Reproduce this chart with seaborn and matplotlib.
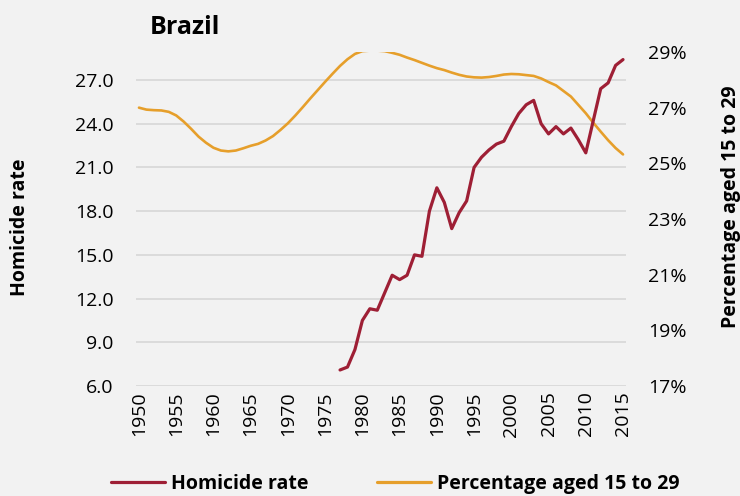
import numpy as np
import pandas as pd
import seaborn as sns
from matplotlib import pyplot as plt
from matplotlib.ticker import FuncFormatter
from matplotlib.lines import Line2D

# homicide rate per 100k, 1977-2015
homYears = list(range(1977, 2016))
homRate = [7.1, 7.3, 8.5, 10.5, 11.3, 11.2, 12.4, 13.6, 13.3, 13.6,
           15.0, 14.9, 18.0, 19.6, 18.6, 16.8, 17.9, 18.7, 21.0, 21.7,
           22.2, 22.6, 22.8, 23.8, 24.7, 25.3, 25.6, 24.0, 23.3, 23.8,
           23.3, 23.7, 22.9, 22.0, 24.2, 26.4, 26.8, 28.0, 28.4]

# share of population aged 15 to 29 (%), 1950-2015
popYears = list(range(1950, 2016))
popShare = [27.00, 26.93, 26.91, 26.90, 26.85, 26.72, 26.50, 26.24, 25.96, 25.74,
            25.56, 25.46, 25.43, 25.46, 25.54, 25.63, 25.70, 25.82, 25.98, 26.20,
            26.44, 26.72, 27.02, 27.33, 27.63, 27.93, 28.22, 28.50, 28.74, 28.93,
            29.03, 29.05, 29.05, 29.03, 28.97, 28.90, 28.80, 28.71, 28.61, 28.51,
            28.42, 28.35, 28.26, 28.18, 28.12, 28.09, 28.08, 28.10, 28.14, 28.19,
            28.21, 28.20, 28.17, 28.14, 28.05, 27.92, 27.80, 27.60, 27.40, 27.10,
            26.80, 26.46, 26.14, 25.83, 25.55, 25.32]

xTicks = list(range(1950, 2016, 5))
leftTicks = [6, 9, 12, 15, 18, 21, 24, 27]
rightTicks = [17, 19, 21, 23, 25, 27, 29]

homDf = pd.DataFrame({'year': homYears, 'rate': homRate})
popDf = pd.DataFrame({'year': popYears, 'share': popShare})

bg = '#f2f2f2'
red = '#9e1f35'
orange = '#e69f2b'

sns.set_theme(style='white')
plt.rcParams['font.family'] = ['Open Sans', 'DejaVu Sans']
plt.rcParams['text.color'] = 'black'

fig = plt.figure(figsize=(7.4, 4.96), dpi=100, facecolor=bg)
ax = fig.add_axes([136 / 740, 1 - 386 / 496, 490 / 740, 334 / 496])
ax.set_facecolor(bg)
ax2 = ax.twinx()

sns.lineplot(data=homDf, x='year', y='rate', ax=ax, color=red, linewidth=2.3, zorder=3)
sns.lineplot(data=popDf, x='year', y='share', ax=ax2, color=orange, linewidth=1.9)
# red line on top of the orange one
ax.set_zorder(ax2.get_zorder() + 1)
ax.patch.set_visible(False)
ax2.patch.set_visible(True)
ax2.patch.set_facecolor(bg)

ax.set_xlim(1949.6, 2015.4)
ax.set_ylim(6, 28.92)
ax2.set_ylim(17, 29)
ax.set_xticks(xTicks)
ax.set_yticks(leftTicks)
ax2.set_yticks(rightTicks)
ax.yaxis.set_major_formatter(FuncFormatter(lambda v, p: f'{v:.1f}'))
ax2.yaxis.set_major_formatter(FuncFormatter(lambda v, p: f'{v:.0f}%'))

# gridlines drawn on the orange axis so they sit below both lines
for t in leftTicks:
    yy = 17 + (t - 6) / (28.92 - 6) * 12
    ax2.axhline(yy, color='#d9d9d9', linewidth=1.3, zorder=0)

ax.set_xlabel('')
ax.set_ylabel('')
ax2.set_ylabel('')
for a in (ax, ax2):
    for s in a.spines.values():
        s.set_visible(False)
ax.tick_params(axis='x', length=0, pad=4, labelsize=14, labelrotation=90, colors='black')
ax.tick_params(axis='y', length=0, pad=16, labelsize=14, colors='black')
ax2.tick_params(axis='y', length=0, pad=16, labelsize=14, colors='black')

fig.text(150 / 740, 1 - 27 / 496, 'Brazil', fontsize=18, fontweight='bold', ha='left', va='center')
fig.text(20 / 740, 1 - 227 / 496, 'Homicide rate', fontsize=14, fontweight='bold',
         rotation=90, ha='center', va='center')
fig.text(731 / 740, 1 - 207 / 496, 'Percentage aged 15 to 29', fontsize=14, fontweight='bold',
         rotation=90, ha='center', va='center')

handles = [Line2D([], [], color=red, linewidth=2.3), Line2D([], [], color=orange, linewidth=2.3)]
leg = fig.legend(handles, ['Homicide rate', 'Percentage aged 15 to 29'], loc='center',
                 bbox_to_anchor=(395 / 740, 1 - 484 / 496), ncol=2, frameon=False,
                 handlelength=2.8, handletextpad=0.3, columnspacing=3.5,
                 prop={'size': 14, 'weight': 'bold'})

fig.savefig('out.png', dpi=100, facecolor=bg)
